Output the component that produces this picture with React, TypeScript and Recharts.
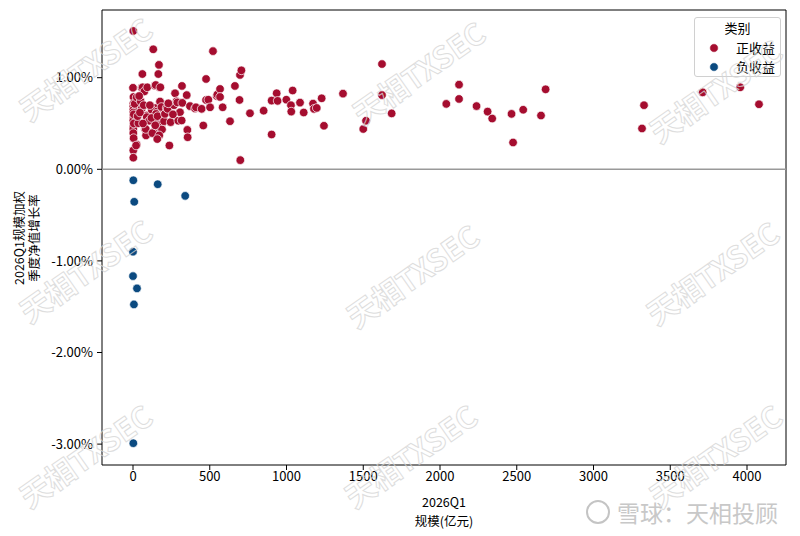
import React from 'react';
import { ScatterChart, Scatter, XAxis, YAxis, ReferenceLine, ReferenceArea, Legend } from 'recharts';

const seriesNames = ['正收益', '负收益'];
const seriesColors = ['#a50d2f', '#0b4a80'];
const legendTitle = '类别';
const xAxisTitle = ['2026Q1', '规模(亿元)'];
const yAxisTitle = ['2026Q1规模加权', '季度净值增长率'];
const xTicks = [0, 500, 1000, 1500, 2000, 2500, 3000, 3500, 4000];
const yTicks = [-3, -2, -1, 0, 1];
const xDomain = [-202, 4254];
const yDomain = [-3.228, 1.739];

// 正收益: scale (亿元) and return (%)
const posScale = [
  2, 0, 3, 2, 2, 2, 2, 2, 2, 2, 8, 2, 2, 2, 24, 2, 2, 11, 5, 5, 4,
  24, 20, 35, 50, 56, 56, 61, 63, 74, 78, 85, 89, 89, 93, 106, 83, 40, 30, 45, 70, 65,
  132, 169, 165, 143, 171, 148, 178, 176, 132, 141, 122, 156, 150, 154, 176, 163, 189, 189, 191,
  132, 126, 171, 158, 176, 120, 110, 145, 160, 185,
  237, 202, 208, 219, 226, 245, 267, 274, 284, 289, 295, 306, 317, 319, 321, 350, 354, 356, 371,
  404, 410, 230, 260,
  447, 458, 476, 476, 491, 502, 521, 545, 549, 567, 567, 584, 632, 664, 694, 697, 706, 699,
  762, 851, 903, 903, 936, 942, 999, 1029, 1031, 1040, 1088, 1112, 1173, 1179, 1197, 1229, 1244,
  1368, 1500, 1518, 1622, 1622, 1685,
  2041, 2124, 2124, 2238, 2310, 2340, 2466, 2476, 2542, 2658, 2688, 3316, 3329, 3711, 3956, 4078,
];
const posReturn = [
  1.51, 0.89, 0.79, 0.714, 0.685, 0.65, 0.62, 0.587, 0.55, 0.53, 0.48, 0.467, 0.44, 0.395, 0.27, 0.207, 0.127, 0.714, 0.6, 0.5, 0.34,
  0.786, 0.26, 0.503, 0.742, 0.66, 0.89, 1.04, 0.895, 0.85, 0.44, 0.37, 0.587, 0.57, 0.895, 0.53, 0.44, 0.8, 0.58, 0.62, 0.7, 0.5,
  1.31, 1.14, 1.04, 0.913, 0.895, 0.92, 0.895, 0.73, 0.66, 0.67, 0.65, 0.63, 0.605, 0.54, 0.46, 0.45, 0.5, 0.435, 0.576,
  0.405, 0.395, 0.37, 0.33, 0.74, 0.56, 0.7, 0.48, 0.58, 0.68,
  0.26, 0.525, 0.605, 0.67, 0.66, 0.515, 0.7, 0.83, 0.742, 0.73, 0.53, 0.623, 0.533, 0.91, 0.725, 0.81, 0.43, 0.35, 0.69,
  0.663, 0.677, 0.72, 0.6,
  0.66, 0.478, 0.986, 0.757, 0.76, 0.677, 1.29, 0.8, 0.815, 0.877, 0.79, 0.677, 0.525, 0.91, 0.757, 1.03, 1.08, 0.1,
  0.612, 0.64, 0.75, 0.38, 0.83, 0.747, 0.76, 0.7, 0.63, 0.86, 0.728, 0.62, 0.717, 0.66, 0.67, 0.775, 0.475,
  0.826, 0.44, 0.53, 1.149, 0.81, 0.61,
  0.714, 0.924, 0.768, 0.69, 0.63, 0.554, 0.605, 0.293, 0.65, 0.587, 0.873, 0.446, 0.7, 0.84, 0.895, 0.71,
];

// 负收益
const negScale = [2, 161, 340, 8, 0, 0, 26, 6, 2];
const negReturn = [-0.12, -0.163, -0.29, -0.355, -0.9, -1.166, -1.3, -1.475, -2.99];

const watermarkText = '天相TXSEC';
const watermarkSpots = [
  [85, 68], [418, 72], [715, 90],
  [85, 270], [412, 275], [712, 272],
  [85, 455], [410, 455], [715, 455],
];
const footerText = '雪球：天相投顾';

const posData = posScale.map((x, i) => ({ scale: x, ret: posReturn[i] }));
const negData = negScale.map((x, i) => ({ scale: x, ret: negReturn[i] }));

const FONT = '"Noto Sans CJK SC", "Noto Sans", sans-serif';

const dot = (color: string) => (p: any) => (
  <circle cx={p.cx} cy={p.cy} r={4.3} fill={color} stroke="#ffffff" strokeWidth={0.7} />
);

const LegendBox = () => (
  <div
    style={{
      border: '1px solid #d0d0d0',
      borderRadius: 3,
      background: 'rgba(255,255,255,0.85)',
      width: 87,
      height: 60,
      boxSizing: 'border-box',
      fontFamily: FONT,
      fontSize: 13,
      color: '#000',
      position: 'relative',
    }}
  >
    <div style={{ position: 'absolute', top: 1, left: 0, width: '100%', textAlign: 'center', lineHeight: '18px' }}>
      {legendTitle}
    </div>
    {seriesNames.map((n, i) => (
      <div key={n} style={{ position: 'absolute', top: 21 + i * 19, left: 0, width: '100%', height: 18 }}>
        <svg width={12} height={12} style={{ position: 'absolute', left: 13, top: 3 }}>
          <circle cx={6} cy={6} r={4.3} fill={seriesColors[i]} stroke="#fff" strokeWidth={0.7} />
        </svg>
        <span style={{ position: 'absolute', right: 5, top: 0, lineHeight: '18px' }}>{n}</span>
      </div>
    ))}
  </div>
);

export default function App() {
  return (
    <div style={{ position: 'absolute', left: 0, top: 0, width: 800, height: 536, fontFamily: FONT, background: '#fff' }}>
      <ScatterChart
        width={800}
        height={536}
        margin={{ top: 10, right: 14, bottom: 31, left: 40 }}
        style={{ fontFamily: FONT }}
      >
        <XAxis
          type="number"
          dataKey="scale"
          domain={xDomain}
          ticks={xTicks}
          allowDataOverflow
          height={40}
          axisLine={false}
          tickLine={{ stroke: '#000' }}
          tickSize={5}
          tickMargin={2}
          tick={{ fill: '#000', fontSize: 13 }}
          label={{
            content: (props: any) => {
              const vb = props.viewBox || { x: 102, y: 465, width: 684 };
              const cx = vb.x + vb.width / 2;
              return (
                <g>
                  <text x={cx} y={501} textAnchor="middle" dominantBaseline="central" fontSize={12.5} fill="#000">
                    {xAxisTitle[0]}
                  </text>
                  <text x={cx} y={520} textAnchor="middle" dominantBaseline="central" fontSize={12.5} fill="#000">
                    {xAxisTitle[1]}
                  </text>
                </g>
              );
            },
          }}
        />
        <YAxis
          type="number"
          dataKey="ret"
          domain={yDomain}
          ticks={yTicks}
          allowDataOverflow
          width={62}
          axisLine={false}
          tickLine={{ stroke: '#000' }}
          tickSize={5}
          tickMargin={4}
          tick={{ fill: '#000', fontSize: 13 }}
          tickFormatter={(v: number) => `${v.toFixed(2)}%`}
          label={{
            content: () => (
              <g>
                <text x={18} y={238} transform="rotate(-90 18 238)" textAnchor="middle" dominantBaseline="central" fontSize={12.5} fill="#000">
                  {yAxisTitle[0]}
                </text>
                <text x={33} y={238} transform="rotate(-90 33 238)" textAnchor="middle" dominantBaseline="central" fontSize={12.5} fill="#000">
                  {yAxisTitle[1]}
                </text>
              </g>
            ),
          }}
        />
        <ReferenceLine y={0} stroke="#999999" strokeWidth={1.5} ifOverflow="extendDomain" />
        <Scatter name={seriesNames[0]} data={posData} fill={seriesColors[0]} shape={dot(seriesColors[0])} isAnimationActive={false} />
        <Scatter name={seriesNames[1]} data={negData} fill={seriesColors[1]} shape={dot(seriesColors[1])} isAnimationActive={false} />
        <ReferenceArea
          x1={xDomain[0]}
          x2={xDomain[1]}
          y1={yDomain[0]}
          y2={yDomain[1]}
          fill="none"
          fillOpacity={0}
          stroke="#000"
          strokeWidth={1}
          strokeOpacity={1}
        />
        <Legend
          layout="vertical"
          align="center"
          verticalAlign="middle"
          content={() => <LegendBox />}
          wrapperStyle={{ position: 'absolute', left: 694, top: 17, width: 87, height: 60 }}
        />
      </ScatterChart>
      <svg width={800} height={536} style={{ position: 'absolute', left: 0, top: 0, pointerEvents: 'none' }}>
        {watermarkSpots.map(([x, y], i) => (
          <text
            key={i}
            x={x}
            y={y}
            transform={`rotate(-35 ${x} ${y})`}
            textAnchor="middle"
            dominantBaseline="central"
            fontSize={30}
            fontWeight={700}
            fill="none"
            stroke="#d6d6d6"
            strokeWidth={1}
            opacity={0.8}
            fontFamily={FONT}
          >
            {watermarkText}
          </text>
        ))}
        <circle cx={598} cy={512} r={11} fill="none" stroke="#c4c4c4" strokeWidth={2} />
        <text x={617} y={512} dominantBaseline="central" fontSize={23} fill="#c8c8c8" fontFamily={FONT}>
          {footerText}
        </text>
      </svg>
    </div>
  );
}
